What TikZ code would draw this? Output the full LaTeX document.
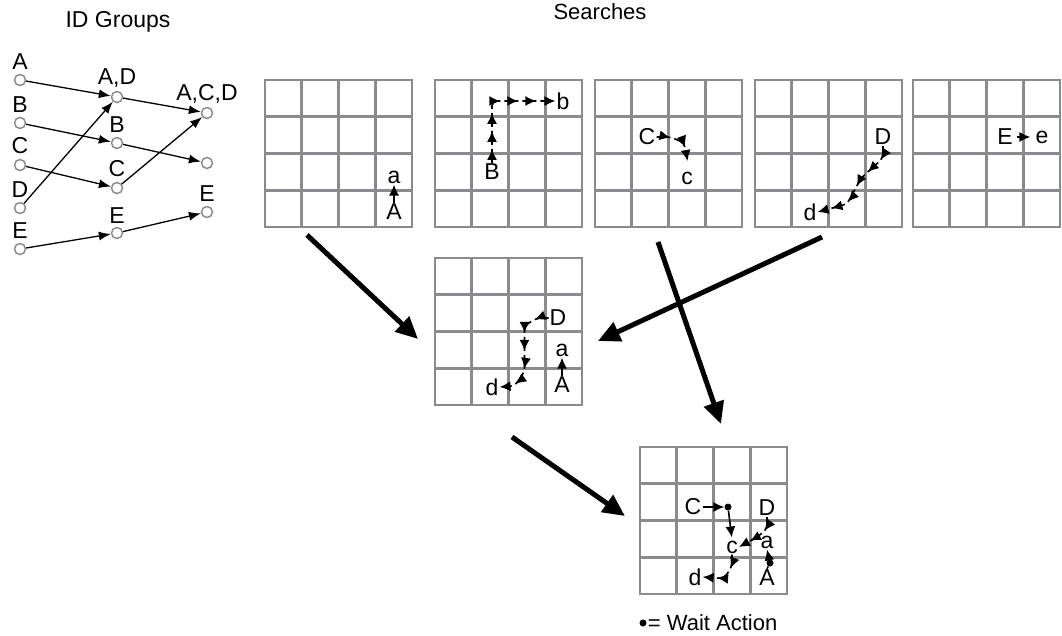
\documentclass[tikz,border=0pt]{standalone}
\usepackage{xcolor}
\usepackage{fontspec}
\setmainfont{Liberation Sans}
\usepackage{tikz}
\usetikzlibrary{arrows.meta, positioning, decorations.markings}

\definecolor{gridgray}{HTML}{898B8E}
\definecolor{circgray}{HTML}{8C8C8C}

% 4x4 search grid, top left corner at (#1,#2)
\newcommand{\searchgrid}[2]{%
  \foreach \k in {0,...,4} {
    \draw[gridline] ({#1+\k*36.75},#2) -- ++(0,147);
    \draw[gridline] (#1,{#2+\k*36.75}) -- ++(147,0);
  }}

\begin{document}
\begin{tikzpicture}[
    x=1pt, y=-1pt,
    font=\fontsize{23}{26}\selectfont,
    gridline/.style={draw=gridgray, line width=2.6pt, line cap=rect},
    idnode/.style={circle, draw=circgray, line width=1.5pt, minimum size=11pt, inner sep=0pt},
    idarrow/.style={-{Latex[length=12pt, width=9pt]}, line width=1.3pt},
    bigarrow/.style={-{Triangle[length=22pt, width=20pt]}, line width=5pt},
    cell/.style={inner sep=1pt},
    onestep/.style={-{Latex[length=11pt, width=10pt]}, line width=1.6pt},
    trail/.style={onestep, rounded corners=5pt, dash pattern=on 14pt off 4pt,
      postaction={decorate},
      decoration={markings, mark=between positions 14pt and -10pt step 18pt with {\arrow{Latex[length=11pt, width=10pt]}}}},
    waitdot/.style={circle, fill, inner sep=0pt, minimum size=7pt},
    small/.style={font=\fontsize{22}{25}\selectfont}
  ]
    \useasboundingbox (0,0) rectangle (1062,635);

    % titles
    \node (idtitle) at (118,22) {ID Groups};
    \node[small] (stitle) at (600,12) {Searches};

    % ID groups
    \node[idnode, label={[label distance=1pt]above:A}] (ia) at (20,80) {};
    \node[idnode, label={[label distance=1pt]above:B}] (ib) at (20,123) {};
    \node[idnode, label={[label distance=1pt]above:C}] (ic) at (20,165) {};
    \node[idnode, label={[label distance=1pt]above:D}] (id) at (20,208) {};
    \node[idnode, label={[label distance=1pt]above:E}] (ie) at (20,249) {};

    \node[idnode, label={[label distance=0pt]above:{A,D}}] (iad) at (117,97) {};
    \node[idnode, label={[label distance=1pt]above:B}] (ib2) at (117,143) {};
    \node[idnode, label={[label distance=1pt]above:C}] (ic2) at (117,188) {};
    \node[idnode, label={[label distance=0pt]above:E}] (ie2) at (117,233) {};

    \node[idnode, label={[label distance=0pt]above:{A,C,D}}] (iacd) at (207,113) {};
    \node[idnode] (ib3) at (207,163) {};
    \node[idnode, label={[label distance=1pt]above:E}] (ie3) at (207,212) {};

    \draw[idarrow] (ia) -- (iad);
    \draw[idarrow] (id) -- (iad);
    \draw[idarrow] (ib) -- (ib2);
    \draw[idarrow] (ic) -- (ic2);
    \draw[idarrow] (ie) -- (ie2);
    \draw[idarrow] (iad) -- (iacd);
    \draw[idarrow] (ic2) -- (iacd);
    \draw[idarrow] (ib2) -- (ib3);
    \draw[idarrow] (ie2) -- (ie3);

    % searches
    \searchgrid{265}{80}
    \searchgrid{435}{80}
    \searchgrid{595}{80}
    \searchgrid{755}{80}
    \searchgrid{913}{80}

    \node[cell] (A1) at (394,212) {A};
    \node[cell] (a1) at (394,177) {a};
    \draw[onestep] (A1.north) -- (a1.south);

    \node[cell] (B2) at (492,172) {B};
    \node[cell] (b2) at (563,101) {b};
    \draw[trail] (B2.north) |- (b2.west);

    \node[cell] (C3) at (647,137) {C};
    \node[cell] (c3) at (687,178) {c};
    \draw[trail] (C3.east) -- ++(14,0) -- ++(14,6) -- ++(3,18);

    \node[cell] (D4) at (883,137) {D};
    \node[cell] (d4) at (810,212) {d};
    \draw[trail] (D4.south) -- ++(0,12) -- ++(-22,20) -- ++(-14,26) -- (d4.east);

    \node[cell] (E5) at (1005,137) {E};
    \node[cell] (e5) at (1042,137) {e};
    \draw[onestep, shorten <=3pt, shorten >=4pt] (E5.east) -- (e5.west);

    % merged plan
    \searchgrid{435}{258}
    \node[cell] (DM) at (558,318) {D};
    \node[cell] (dM) at (492,387) {d};
    \node[cell] (aM) at (562,350) {a};
    \node[cell] (AM) at (562,385) {A};
    \draw[trail] (DM.west) -- ++(-12,0) -- ++(-12,8) -- ++(0,46) -- ++(-10,14) -- (dM.east);
    \draw[onestep] (AM.north) -- (aM.south);

    % final plan
    \searchgrid{640}{447}
    \node[cell] (CF) at (693,507) {C};
    \node[waitdot] (W1) at (728,507) {};
    \node[cell] (cF) at (732,547) {c};
    \node[cell] (DF) at (767,508) {D};
    \node[cell] (aF) at (767,542) {a};
    \node[cell] (AF) at (767,578) {A};
    \node[waitdot] (W2) at (770,563) {};
    \node[cell] (dF) at (695,577) {d};
    \draw[onestep] (CF.east) -- (W1);
    \draw[onestep, shorten >=2pt] (W1) -- (cF.north);
    \draw[trail] (DF.south) -- ++(0,12) -- ++(-10,8) -- (cF.east);
    \draw[trail] (cF.south) -- ++(0,12) -- ++(-8,12) -- (dF.east);
    \draw[line width=1.6pt] (AF.north) -- (W2);
    \draw[onestep] (W2) -- (aF.south);

    % legend
    \node[waitdot] (legdot) at (643,623) {};
    \node[small, right=0pt of legdot, inner sep=1pt] (legtext) {= Wait Action};

    % combining arrows
    \coordinate (s1) at (307,235);
    \coordinate (t1) at (418,339);
    \coordinate (s2) at (822,237);
    \coordinate (t2) at (598,341);
    \coordinate (s3) at (658,242);
    \coordinate (t3) at (721,424);
    \coordinate (s4) at (512,437);
    \coordinate (t4) at (625,516);
    \draw[bigarrow] (s1) -- (t1);
    \draw[bigarrow] (s2) -- (t2);
    \draw[bigarrow] (s3) -- (t3);
    \draw[bigarrow] (s4) -- (t4);
  \end{tikzpicture}
\end{document}
